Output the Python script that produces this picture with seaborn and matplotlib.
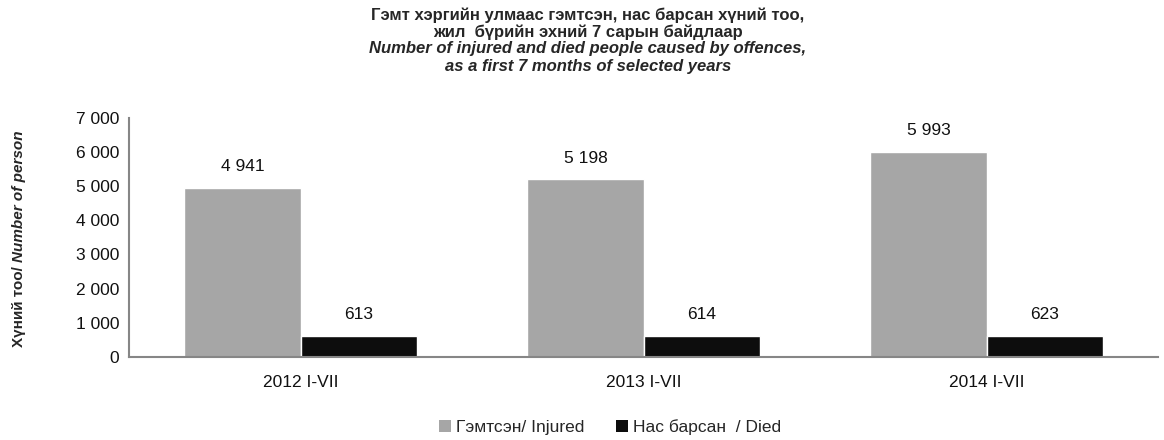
import numpy as np
import pandas as pd
import matplotlib
matplotlib.use("Agg")
import matplotlib.pyplot as plt
import matplotlib.ticker as mticker
from matplotlib.patches import Patch
import seaborn as sns

periods = ["2012 I-VII", "2013 I-VII", "2014 I-VII"]
injured = [4941, 5198, 5993]
died = [613, 614, 623]
series_names = ["Гэмтсэн/ Injured", "Нас барсан  / Died"]
colors = ["#A6A6A6", "#0D0D0D"]

df = pd.DataFrame({
    "period": periods * 2,
    "value": injured + died,
    "series": [series_names[0]] * 3 + [series_names[1]] * 3,
})

sns.set_theme(style="white")
plt.rcParams['font.family'] = ['Liberation Sans', 'DejaVu Sans']

fig = plt.figure(figsize=(11.64, 4.4), dpi=100)
ax = fig.add_axes([0.111, 0.189, 0.884, 0.543])

sns.barplot(data=df, x="period", y="value", hue="series", palette=colors,
            width=0.68, saturation=1, ax=ax, legend=False)

def fmt(v):
    return f"{v:,.0f}".replace(",", " ")

for cont in ax.containers:
    ax.bar_label(cont, labels=[fmt(b.get_height()) for b in cont],
                 padding=10, fontsize=12.5, color="#111111")

ax.set_ylim(0, 7000)
ax.yaxis.set_major_locator(mticker.MultipleLocator(1000))
ax.yaxis.set_major_formatter(mticker.FuncFormatter(lambda v, p: fmt(v)))
ax.tick_params(axis="both", labelsize=12.5, colors="#111111", length=0, pad=7)
ax.tick_params(axis="x", pad=13)
ax.set_xlabel("")
ax.set_ylabel("")
ax.set_xlim(-0.5, 2.5)

for s in ["top", "right"]:
    ax.spines[s].set_visible(False)
for s in ["left", "bottom"]:
    ax.spines[s].set_color("#868686")
    ax.spines[s].set_linewidth(1.5)

title_lines = ["Гэмт хэргийн улмаас гэмтсэн, нас барсан хүний тоо,",
               "жил  бүрийн эхний 7 сарын байдлаар",
               "Number of injured and died people caused by offences,",
               "as a first 7 months of selected years"]
title_y = [15, 32, 49, 66]
for i, (line, yp) in enumerate(zip(title_lines, title_y)):
    fig.text(0.505, 1 - yp / 440, line, ha="center", va="center",
             fontsize=12, fontweight="bold",
             style="italic" if i >= 2 else "normal")

t1 = fig.text(0.016, 1 - 347 / 440, "Хүний тоо/ ", rotation=90, ha="center",
              va="bottom", fontsize=11, fontweight="bold")
fig.canvas.draw()
bb = t1.get_window_extent()
fig.text(0.016, bb.y1 / fig.bbox.height, "Number of person", rotation=90,
         ha="center", va="bottom", fontsize=11, fontweight="bold",
         style="italic")

handles = [Patch(facecolor=c, edgecolor="none") for c in colors]
fig.legend(handles, series_names, loc="center", bbox_to_anchor=(0.524, 0.03),
           ncol=2, frameon=False, fontsize=12.5, handlelength=0.7,
           handleheight=0.7, handletextpad=0.3, columnspacing=1.8)

fig.savefig("out.png", dpi=100)
